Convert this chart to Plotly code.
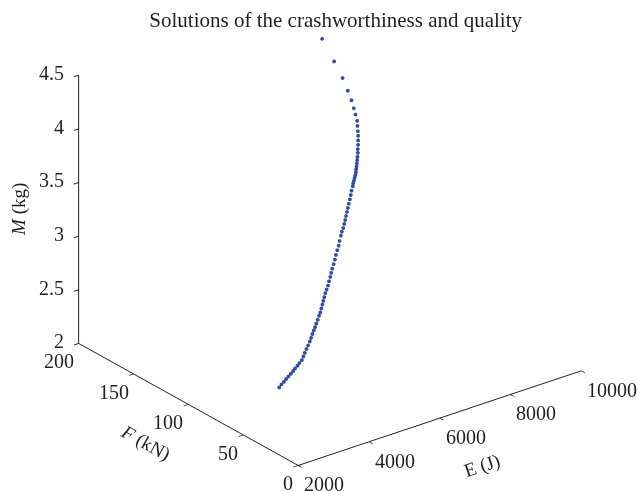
import plotly.graph_objects as go

# Pareto solutions: absorbed energy E (J), peak crushing force F (kN), mass M (kg)
energy_J = [3795, 3844, 3890, 3936, 3980, 4026, 4072, 4114, 4160, 4203,
            4253, 4304, 4355, 4408, 4460, 4516, 4567, 4617, 4667, 4714,
            4763, 4815, 4869, 4915, 4967, 5019, 5067, 5116, 5168, 5218,
            5272, 5328, 5386, 5438, 5493, 5552, 5613, 5673, 5735, 5796,
            5856, 5925, 5977, 6028, 6080, 6132, 6182, 6234, 6286, 6341,
            6398, 6453, 6507, 6565, 6602, 6636, 6671, 6706, 6744, 6780,
            6817, 6853, 6893, 6933, 6981, 7023, 7074, 7124, 7177, 7228,
            7287, 7341, 7404, 7465, 7542, 7629, 7739, 7876, 8058]
force_kN = [75.2, 74.7, 74.0, 73.4, 72.7, 72.0, 71.4, 71.0, 70.3, 69.9,
            69.3, 69.5, 69.9, 70.2, 70.3, 70.6, 71.0, 71.5, 71.8, 72.1,
            72.6, 72.9, 73.5, 73.8, 74.6, 75.3, 76.0, 76.7, 77.4, 77.8,
            78.3, 79.2, 79.9, 80.7, 81.6, 82.2, 83.0, 84.0, 84.8, 85.5,
            86.6, 87.6, 88.4, 88.8, 89.6, 90.4, 91.3, 92.1, 92.9, 93.8,
            94.7, 95.6, 96.7, 97.4, 98.3, 98.7, 99.2, 99.8, 100.4, 101.3,
            102.1, 103.0, 104.0, 105.0, 106.2, 107.6, 109.0, 110.6, 112.3, 114.2,
            116.4, 118.5, 122.0, 125.5, 130.1, 136.2, 144.6, 156.7, 173.5]
mass_kg = [2.102, 2.127, 2.151, 2.175, 2.198, 2.222, 2.246, 2.268, 2.292, 2.314,
           2.340, 2.367, 2.393, 2.421, 2.448, 2.477, 2.503, 2.530, 2.556, 2.580,
           2.606, 2.633, 2.661, 2.685, 2.712, 2.739, 2.764, 2.790, 2.817, 2.843,
           2.871, 2.900, 2.930, 2.957, 2.986, 3.017, 3.049, 3.080, 3.112, 3.144,
           3.175, 3.211, 3.238, 3.264, 3.292, 3.319, 3.345, 3.372, 3.399, 3.428,
           3.457, 3.486, 3.514, 3.545, 3.563, 3.581, 3.600, 3.618, 3.638, 3.657,
           3.676, 3.695, 3.715, 3.736, 3.761, 3.783, 3.809, 3.836, 3.863, 3.890,
           3.920, 3.949, 3.981, 4.013, 4.053, 4.098, 4.156, 4.227, 4.322]

e_ticks = [2000, 4000, 6000, 8000, 10000]
f_ticks = [0, 50, 100, 150, 200]
m_ticks = [2, 2.5, 3, 3.5, 4, 4.5]

E_RANGE = [2000, 10000]
F_RANGE = [0, 200]
M_RANGE = [2, 4.5]

INK = "#231f20"
SERIF = "Liberation Serif"

fig = go.Figure(go.Scatter3d(
    x=energy_J, y=force_kN, z=mass_kg,
    mode="markers",
    marker=dict(size=2.2, color="#2b4cb3", opacity=1),
    hoverinfo="skip",
))


def axis_style(rng, ticks):
    return dict(
        title=dict(text=""),
        range=rng, autorange=False,
        tickvals=ticks, showticklabels=False,
        showbackground=False, showgrid=False, zeroline=False,
        showspikes=False, showline=True, linecolor=INK, linewidth=2,
        ticks="outside", ticklen=6, tickcolor=INK, tickwidth=2,
    )


tick_font = dict(family=SERIF, size=20, color=INK)
title_font = dict(family=SERIF, size=19, color=INK)

labels = []
# tick labels, placed in data coordinates next to each axis line
for t in m_ticks:
    labels.append(dict(x=E_RANGE[0], y=F_RANGE[1], z=t, text=f"{t:g}",
                       xanchor="right", xshift=-13, yshift=2, font=tick_font))
for t in f_ticks:
    labels.append(dict(x=E_RANGE[0], y=t, z=M_RANGE[0], text=f"{t:g}",
                       xanchor="right", xshift=-3, yshift=-18, font=tick_font))
for t in e_ticks:
    labels.append(dict(x=t, y=F_RANGE[0], z=M_RANGE[0], text=f"{t:g}",
                       xanchor="left", xshift=4, yshift=-19, font=tick_font))

# axis titles
labels += [
    dict(x=7184, y=F_RANGE[0], z=M_RANGE[0], text="E (J)",
         textangle=-18, yshift=-62, xanchor="center", font=title_font),
    dict(x=E_RANGE[0], y=139, z=M_RANGE[0], text="<i>F</i> (kN)",
         textangle=29, yshift=-62, xanchor="center", font=title_font),
    dict(x=E_RANGE[0], y=F_RANGE[1], z=3.25, text="<i>M</i> (kg)",
         textangle=-90, xshift=-59, xanchor="center", font=title_font),
]
for a in labels:
    a.update(showarrow=False, yanchor="middle")

# look-at point offset so the box sits a little right of and above the page centre;
# the eye is offset by the same amount to keep the viewing direction
look_at = dict(x=-0.061, y=-0.0027, z=-0.0827)
view_dir = dict(x=-0.995, y=-1.283, z=0.776)
eye = {k: look_at[k] + view_dir[k] for k in "xyz"}

fig.update_layout(
    width=637, height=491,
    margin=dict(l=0, r=0, t=0, b=0),
    paper_bgcolor="white",
    showlegend=False,
    title=dict(text="Solutions of the crashworthiness and quality",
               x=0.527, xanchor="center", y=0.96, yanchor="middle",
               font=dict(family=SERIF, size=21, color=INK)),
    scene=dict(
        domain=dict(x=[0, 1], y=[0, 1]),
        xaxis=axis_style(E_RANGE, e_ticks),
        yaxis=axis_style(F_RANGE, f_ticks),
        zaxis=axis_style(M_RANGE, m_ticks),
        aspectmode="manual",
        aspectratio=dict(x=1.459, y=1.459, z=1.211),
        camera=dict(
            eye=eye,
            up=dict(x=0, y=0, z=1),
            center=look_at,
            projection=dict(type="orthographic"),
        ),
        annotations=labels,
        bgcolor="white",
    ),
)

fig.write_html("out.html")
